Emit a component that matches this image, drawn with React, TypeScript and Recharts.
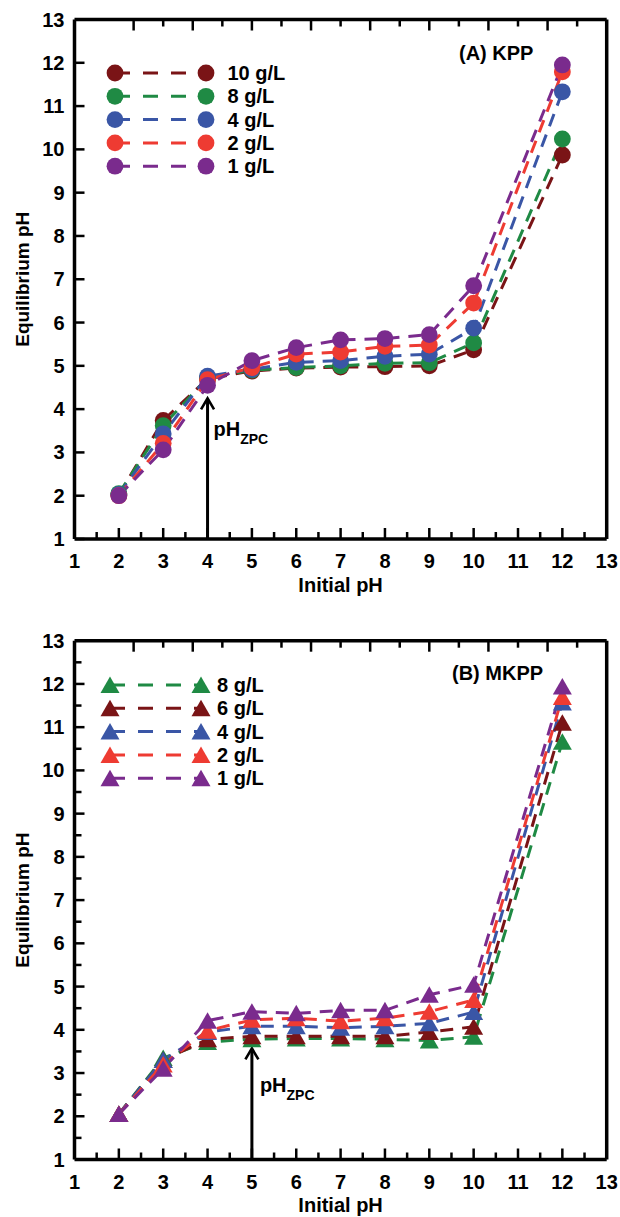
import React from 'react';
import { ComposedChart, Line, XAxis, YAxis, ReferenceLine, Legend } from 'recharts';

// initial pH values (x axis)
const initialPH = [2, 3, 4, 5, 6, 7, 8, 9, 10, 12];

// (A) KPP - equilibrium pH per dose
const kpp10 = [2.02, 3.74, 4.7, 4.88, 4.95, 4.97, 4.98, 5.0, 5.37, 9.87];
const kpp8 = [2.05, 3.62, 4.72, 4.9, 4.96, 5.0, 5.06, 5.07, 5.53, 10.24];
const kpp4 = [2.03, 3.43, 4.76, 4.92, 5.08, 5.12, 5.22, 5.27, 5.87, 11.33];
const kpp2 = [2.0, 3.21, 4.68, 4.96, 5.27, 5.32, 5.45, 5.48, 6.45, 11.79];
const kpp1 = [2.0, 3.06, 4.55, 5.12, 5.42, 5.6, 5.63, 5.72, 6.85, 11.95];

// (B) MKPP - equilibrium pH per dose
const mkpp8 = [2.05, 3.35, 3.72, 3.78, 3.8, 3.8, 3.78, 3.75, 3.84, 10.66];
const mkpp6 = [2.05, 3.3, 3.78, 3.85, 3.85, 3.85, 3.85, 3.95, 4.07, 11.1];
const mkpp4 = [2.05, 3.3, 3.95, 4.08, 4.08, 4.05, 4.08, 4.15, 4.41, 11.57];
const mkpp2 = [2.05, 3.2, 3.98, 4.23, 4.27, 4.2, 4.27, 4.42, 4.69, 11.7];
const mkpp1 = [2.05, 3.1, 4.21, 4.42, 4.38, 4.45, 4.45, 4.81, 5.04, 11.94];

const xTicks = [1, 1.5, 2, 2.5, 3, 3.5, 4, 4.5, 5, 5.5, 6, 6.5, 7, 7.5, 8, 8.5, 9, 9.5, 10, 10.5, 11, 11.5, 12, 12.5, 13];
const yTicksA = [1, 2, 3, 4, 5, 6, 7, 8, 9, 10, 11, 12, 13];
const yTicksB = [1, 1.5, 2, 2.5, 3, 3.5, 4, 4.5, 5, 5.5, 6, 6.5, 7, 7.5, 8, 8.5, 9, 9.5, 10, 10.5, 11, 11.5, 12, 12.5, 13];

// pH_ZPC arrows
const zpcA = { x: 4, top: 4.25 };
const zpcB = { x: 5, top: 3.57 };

const DARKRED = '#7a1416';
const GREEN = '#1f8a44';
const BLUE = '#3a56a6';
const RED = '#ee3b32';
const PURPLE = '#7a2b8d';

const seriesA = [
  { key: 'a10', name: '10 g/L', color: DARKRED, values: kpp10 },
  { key: 'a8', name: '8 g/L', color: GREEN, values: kpp8 },
  { key: 'a4', name: '4 g/L', color: BLUE, values: kpp4 },
  { key: 'a2', name: '2 g/L', color: RED, values: kpp2 },
  { key: 'a1', name: '1 g/L', color: PURPLE, values: kpp1 },
];
const seriesB = [
  { key: 'b8', name: '8 g/L', color: GREEN, values: mkpp8 },
  { key: 'b6', name: '6 g/L', color: DARKRED, values: mkpp6 },
  { key: 'b4', name: '4 g/L', color: BLUE, values: mkpp4 },
  { key: 'b2', name: '2 g/L', color: RED, values: mkpp2 },
  { key: 'b1', name: '1 g/L', color: PURPLE, values: mkpp1 },
];

const buildRows = (series: any[]) =>
  initialPH.map((x, i) => {
    const row: any = { x };
    series.forEach((s) => (row[s.key] = s.values[i]));
    return row;
  });

const dataA = buildRows(seriesA);
const dataB = buildRows(seriesB);

const FONT = '"Liberation Sans", Arial, Helvetica, sans-serif';
const DASH = '13 9';
const AXLINE = { stroke: '#000', strokeWidth: 3.5 };

const isMajor = (v: number) => Number.isInteger(v);

const circleDot = (color: string) => (p: any) =>
  p.cx == null ? <g key={p.index} /> : <circle key={p.index} cx={p.cx} cy={p.cy} r={8.4} fill={color} stroke="none" />;

const triPath = (cx: number, cy: number) => `M${cx},${cy - 8.5} L${cx + 9.5},${cy + 8} L${cx - 9.5},${cy + 8} Z`;

const triDot = (color: string) => (p: any) =>
  p.cx == null ? <g key={p.index} /> : <path key={p.index} d={triPath(p.cx, p.cy)} fill={color} stroke="none" />;

// axes get 1px of room (a 0-sized axis is not drawn), ticks point inward
const BottomTick = (p: any) => {
  const v = p.payload.value;
  const y = p.y - 1;
  return (
    <g>
      <line x1={p.x} x2={p.x} y1={y} y2={y - (isMajor(v) ? 10 : 6)} stroke="#000" strokeWidth={2.5} />
      {isMajor(v) && (
        <text x={p.x} y={y + 30} textAnchor="middle" fontSize={20} fontWeight="bold" fontFamily={FONT} fill="#000">
          {v}
        </text>
      )}
    </g>
  );
};

const TopTick = (p: any) => {
  const v = p.payload.value;
  const y = p.y + 1;
  return <line x1={p.x} x2={p.x} y1={y} y2={y + (isMajor(v) ? 10 : 6)} stroke="#000" strokeWidth={2.5} />;
};

const LeftTick = (p: any) => {
  const v = p.payload.value;
  const x = p.x + 1;
  return (
    <g>
      <line x1={x} x2={x + (isMajor(v) ? 9 : 6)} y1={p.y} y2={p.y} stroke="#000" strokeWidth={2.5} />
      {isMajor(v) && (
        <text x={x - 11} y={p.y + 7} textAnchor="end" fontSize={20} fontWeight="bold" fontFamily={FONT} fill="#000">
          {v}
        </text>
      )}
    </g>
  );
};

const RightTick = (p: any) => {
  const v = p.payload.value;
  const x = p.x - 1;
  return <line x1={x} x2={x - (isMajor(v) ? 9 : 6)} y1={p.y} y2={p.y} stroke="#000" strokeWidth={2.5} />;
};

const xTitle = (dy: number) => (p: any) => {
  const vb = p.viewBox;
  return (
    <text x={vb.x + vb.width / 2} y={vb.y + dy} textAnchor="middle" fontSize={20} fontWeight="bold" fontFamily={FONT} fill="#000">
      Initial pH
    </text>
  );
};

const yTitle = (p: any) => {
  const vb = p.viewBox;
  const cx = vb.x + vb.width - 52;
  const cy = vb.y + vb.height / 2;
  return (
    <text
      x={cx}
      y={cy}
      transform={`rotate(-90 ${cx} ${cy})`}
      textAnchor="middle"
      dominantBaseline="central"
      fontSize={19}
      fontWeight="bold"
      fontFamily={FONT}
      fill="#000"
    >
      Equilibrium pH
    </text>
  );
};

// vertical arrow with open head and pH_ZPC label
const arrowShape = (labelDx: number, labelDy: number) => (p: any) => {
  const { x1, y1, x2, y2 } = p;
  return (
    <g>
      <line x1={x1} y1={y1} x2={x2} y2={y2 + 1} stroke="#000" strokeWidth={3} />
      <path d={`M${x2 - 6.5},${y2 + 11} L${x2},${y2} L${x2 + 6.5},${y2 + 11}`} fill="none" stroke="#000" strokeWidth={2.6} />
      <text x={x2 + labelDx} y={y2 + labelDy} fontSize={20} fontWeight="bold" fontFamily={FONT} fill="#000">
        pH
        <tspan fontSize={14} dy={8}>
          ZPC
        </tspan>
      </text>
    </g>
  );
};

const legendBox = (series: any[], triangle: boolean) => () => (
  <svg width={200} height={125} style={{ display: 'block', overflow: 'visible' }}>
    {series.map((s, i) => {
      const y = 17 + i * 23.3;
      return (
        <g key={s.key}>
          <line x1={15} x2={106} y1={y} y2={y} stroke={s.color} strokeWidth={3} strokeDasharray="15 13" />
          {triangle ? (
            <>
              <path d={triPath(15, y)} fill={s.color} />
              <path d={triPath(106, y)} fill={s.color} />
            </>
          ) : (
            <>
              <circle cx={15} cy={y} r={8.4} fill={s.color} />
              <circle cx={106} cy={y} r={8.4} fill={s.color} />
            </>
          )}
          <text x={triangle ? 122 : 127.5} y={y + 7} fontSize={20} fontWeight="bold" fontFamily={FONT} fill="#000">
            {s.name}
          </text>
        </g>
      );
    })}
  </svg>
);

type PanelProps = {
  data: any[];
  series: any[];
  triangle: boolean;
  yTicks: number[];
  height: number;
  marginTop: number;
  marginBottom: number;
  zpc: { x: number; top: number };
  zpcDx: number;
  zpcDy: number;
  legendLeft: number;
  legendTop: number;
  titleDy: number;
};

const Panel = (pp: PanelProps) => (
  <ComposedChart
    width={620}
    height={pp.height}
    data={pp.data}
    margin={{ top: pp.marginTop - 1, right: 12.3, bottom: pp.marginBottom - 1, left: 73.5 }}
  >
    <XAxis
      dataKey="x"
      type="number"
      domain={[1, 13]}
      ticks={xTicks}
      interval={0}
      height={1}
      tickSize={0}
      tickMargin={0}
      tickLine={false}
      axisLine={AXLINE}
      tick={(p: any) => <BottomTick {...p} />}
      label={xTitle(pp.titleDy)}
    />
    <XAxis
      xAxisId="top"
      orientation="top"
      type="number"
      domain={[1, 13]}
      ticks={xTicks}
      interval={0}
      height={1}
      tickSize={0}
      tickMargin={0}
      tickLine={false}
      axisLine={AXLINE}
      tick={(p: any) => <TopTick {...p} />}
    />
    <YAxis
      type="number"
      domain={[1, 13]}
      ticks={pp.yTicks}
      interval={0}
      width={1}
      tickSize={0}
      tickMargin={0}
      tickLine={false}
      axisLine={AXLINE}
      tick={(p: any) => <LeftTick {...p} />}
      label={yTitle}
    />
    <YAxis
      yAxisId="right"
      orientation="right"
      type="number"
      domain={[1, 13]}
      ticks={pp.yTicks}
      interval={0}
      width={1}
      tickSize={0}
      tickMargin={0}
      tickLine={false}
      axisLine={AXLINE}
      tick={(p: any) => <RightTick {...p} />}
    />
    <ReferenceLine
      segment={[
        { x: pp.zpc.x, y: 1 },
        { x: pp.zpc.x, y: pp.zpc.top },
      ]}
      ifOverflow="visible"
      shape={arrowShape(pp.zpcDx, pp.zpcDy)}
    />
    {pp.series.map((s) => (
      <Line
        key={s.key}
        dataKey={s.key}
        name={s.name}
        type="linear"
        stroke={s.color}
        strokeWidth={3}
        strokeDasharray={DASH}
        dot={pp.triangle ? triDot(s.color) : circleDot(s.color)}
        activeDot={false}
        isAnimationActive={false}
      />
    ))}
    <Legend
      layout="vertical"
      align="center"
      verticalAlign="middle"
      wrapperStyle={{ left: pp.legendLeft, top: pp.legendTop, width: 200, height: 125, margin: 0 }}
      content={legendBox(pp.series, pp.triangle)}
    />
  </ComposedChart>
);

const titleStyle: React.CSSProperties = {
  position: 'absolute',
  fontFamily: FONT,
  fontWeight: 'bold',
  fontSize: 20,
  lineHeight: '20px',
  whiteSpace: 'nowrap',
};

export default function App() {
  return (
    <div style={{ position: 'absolute', left: 0, top: 0, width: 620, height: 1217, background: '#fff' }}>
      <div style={{ position: 'absolute', left: 0, top: 0 }}>
        <Panel
          data={dataA}
          series={seriesA}
          triangle={false}
          yTicks={yTicksA}
          height={610}
          marginTop={19.5}
          marginBottom={71}
          zpc={zpcA}
          zpcDx={6}
          zpcDy={38}
          legendLeft={100}
          legendTop={55.7}
          titleDy={53}
        />
        <div style={{ ...titleStyle, left: 459, top: 43 }}>(A) KPP</div>
      </div>
      <div style={{ position: 'absolute', left: 0, top: 610 }}>
        <Panel
          data={dataB}
          series={seriesB}
          triangle={true}
          yTicks={yTicksB}
          height={607}
          marginTop={30.7}
          marginBottom={57.5}
          zpc={zpcB}
          zpcDx={8}
          zpcDy={44}
          legendLeft={95}
          legendTop={58}
          titleDy={52.5}
        />
        <div style={{ ...titleStyle, left: 452, top: 53 }}>(B) MKPP</div>
      </div>
    </div>
  );
}
